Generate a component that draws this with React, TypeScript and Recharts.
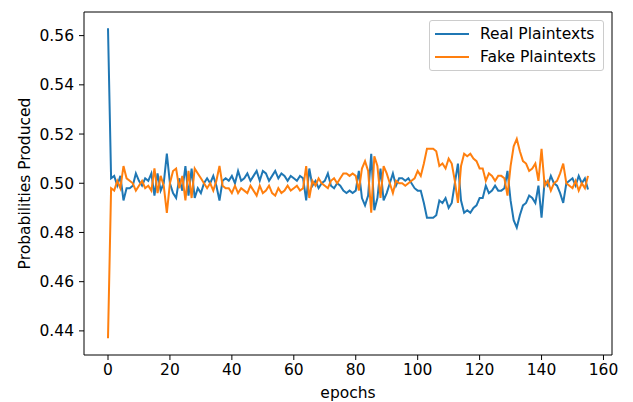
import { LineChart, Line, XAxis, YAxis, Legend, ReferenceLine } from 'recharts';

// values, one per epoch (0..155)
const realPlaintexts = [
  0.563, 0.502, 0.503, 0.499, 0.503, 0.493, 0.498, 0.498, 0.499, 0.504,
  0.501, 0.499, 0.502, 0.501, 0.504, 0.495, 0.504, 0.497, 0.5, 0.512,
  0.5, 0.496, 0.494, 0.502, 0.497, 0.507, 0.495, 0.506, 0.494, 0.498,
  0.496, 0.5, 0.502, 0.5, 0.503, 0.499, 0.493, 0.501, 0.502, 0.501,
  0.503, 0.5, 0.505, 0.501, 0.502, 0.504, 0.501, 0.503, 0.505, 0.501,
  0.505, 0.504, 0.501, 0.503, 0.505, 0.502, 0.504, 0.503, 0.501, 0.503,
  0.502, 0.501, 0.503, 0.502, 0.493, 0.506, 0.499, 0.501, 0.498, 0.5,
  0.501, 0.504, 0.499, 0.498, 0.5, 0.499, 0.497, 0.496, 0.497, 0.496,
  0.497, 0.505, 0.494, 0.491, 0.495, 0.512, 0.489, 0.494, 0.506, 0.493,
  0.496, 0.5, 0.504, 0.499, 0.502, 0.502, 0.501, 0.502, 0.5, 0.498,
  0.497, 0.497, 0.492, 0.486, 0.486, 0.486, 0.487, 0.493, 0.492, 0.494,
  0.49, 0.492, 0.5, 0.508, 0.493, 0.488, 0.489, 0.488, 0.49, 0.491,
  0.494, 0.494, 0.499, 0.496, 0.497, 0.499, 0.497, 0.497, 0.498, 0.505,
  0.493, 0.485, 0.482, 0.487, 0.491, 0.492, 0.495, 0.494, 0.492, 0.499,
  0.486, 0.501, 0.499, 0.503, 0.5, 0.499, 0.496, 0.492, 0.5, 0.501,
  0.502, 0.499, 0.503, 0.5, 0.502, 0.4975,
];

const fakePlaintexts = [
  0.437, 0.498, 0.497, 0.501, 0.498, 0.507, 0.502, 0.501, 0.5, 0.497,
  0.499, 0.501, 0.498, 0.499, 0.497, 0.506, 0.496, 0.503, 0.499, 0.488,
  0.5, 0.505, 0.506, 0.498, 0.503, 0.493, 0.505, 0.494, 0.506, 0.504,
  0.502, 0.5, 0.498, 0.5, 0.497, 0.501, 0.507, 0.499, 0.498, 0.498,
  0.496, 0.499, 0.496, 0.498, 0.497, 0.496, 0.499, 0.497, 0.495, 0.499,
  0.496, 0.497, 0.499, 0.496, 0.495, 0.498, 0.496, 0.497, 0.499, 0.497,
  0.498, 0.499, 0.497, 0.498, 0.507, 0.494, 0.501, 0.499, 0.502, 0.5,
  0.499, 0.498, 0.501, 0.502, 0.5, 0.502, 0.504, 0.504, 0.503, 0.504,
  0.503, 0.497, 0.506, 0.509, 0.505, 0.488, 0.511, 0.507, 0.494, 0.507,
  0.504, 0.5, 0.496, 0.501, 0.5, 0.5, 0.499, 0.5, 0.501, 0.502,
  0.505, 0.503, 0.508, 0.514, 0.514, 0.514, 0.513, 0.507, 0.508, 0.506,
  0.51, 0.508, 0.501, 0.492, 0.507, 0.512, 0.511, 0.512, 0.51, 0.509,
  0.506, 0.506, 0.501, 0.504, 0.503, 0.501, 0.503, 0.503, 0.502, 0.495,
  0.507, 0.515, 0.518, 0.513, 0.509, 0.508, 0.505, 0.506, 0.508, 0.501,
  0.514, 0.499, 0.501, 0.497, 0.5, 0.501, 0.504, 0.508, 0.5, 0.499,
  0.498, 0.501, 0.497, 0.5, 0.498, 0.503,
];

const epochTicks = [0, 20, 40, 60, 80, 100, 120, 140, 160];
const probTicks = [0.44, 0.46, 0.48, 0.5, 0.52, 0.54, 0.56];

const data = realPlaintexts.map((real, i) => ({
  epoch: i,
  real,
  fake: fakePlaintexts[i],
}));

const BLUE = '#1f77b4';
const ORANGE = '#ff7f0e';
const FONT = '"DejaVu Sans", sans-serif';
const FS = 15.5;

const xDomain: [number, number] = [-7.75, 162.75];
const yDomain: [number, number] = [0.4302, 0.5696];

const legendItems = [
  { label: 'Real Plaintexts', color: BLUE },
  { label: 'Fake Plaintexts', color: ORANGE },
];

const renderLegend = () => (
  <div
    style={{
      position: 'relative',
      width: 175,
      height: 51,
      boxSizing: 'border-box',
      border: '1px solid #cccccc',
      borderRadius: 3,
      background: 'rgba(255,255,255,0.8)',
      fontFamily: FONT,
      fontSize: FS,
      color: '#000',
    }}
  >
    {legendItems.map((item, i) => (
      <div key={item.label} style={{ position: 'absolute', left: 0, top: 2 + i * 22.7, height: 20, width: '100%' }}>
        <div style={{ position: 'absolute', left: 5, top: 10, width: 34, height: 2, background: item.color }} />
        <div style={{ position: 'absolute', left: 50, top: 1, lineHeight: '20px', whiteSpace: 'nowrap' }}>{item.label}</div>
      </div>
    ))}
  </div>
);

export default function App() {
  return (
    <div style={{ position: 'absolute', left: 0, top: 0, background: '#fff' }}>
      <LineChart
        width={633}
        height={402}
        data={data}
        margin={{ top: 12, right: 21, left: 0, bottom: 0 }}
        style={{ fontFamily: FONT }}
      >
        <XAxis
          dataKey="epoch"
          type="number"
          domain={xDomain}
          allowDataOverflow
          ticks={epochTicks}
          interval={0}
          height={47}
          stroke="#000"
          tickSize={5}
          tickMargin={4}
          tick={{ fill: '#000', fontSize: FS }}
          label={{ value: 'epochs', position: 'insideBottom', offset: 4, fill: '#000', fontSize: FS }}
        />
        <YAxis
          type="number"
          domain={yDomain}
          allowDataOverflow
          ticks={probTicks}
          interval={0}
          width={84}
          stroke="#000"
          tickSize={5}
          tickMargin={5}
          tick={{ fill: '#000', fontSize: FS }}
          tickFormatter={(v: number) => v.toFixed(2)}
          label={{
            value: 'Probabilities Produced',
            angle: -90,
            position: 'insideLeft',
            offset: 24,
            fill: '#000',
            fontSize: FS,
            style: { textAnchor: 'middle' },
          }}
        />
        {/* top and right spines */}
        <ReferenceLine y={yDomain[1]} stroke="#000" strokeWidth={1} />
        <ReferenceLine x={xDomain[1]} stroke="#000" strokeWidth={1} />
        <Legend
          layout="vertical"
          align="center"
          verticalAlign="middle"
          content={renderLegend}
          wrapperStyle={{ left: 429, top: 20, width: 175, height: 51 }}
        />
        <Line
          type="linear"
          dataKey="real"
          name="Real Plaintexts"
          stroke={BLUE}
          strokeWidth={2}
          dot={false}
          isAnimationActive={false}
        />
        <Line
          type="linear"
          dataKey="fake"
          name="Fake Plaintexts"
          stroke={ORANGE}
          strokeWidth={2}
          dot={false}
          isAnimationActive={false}
        />
      </LineChart>
    </div>
  );
}
